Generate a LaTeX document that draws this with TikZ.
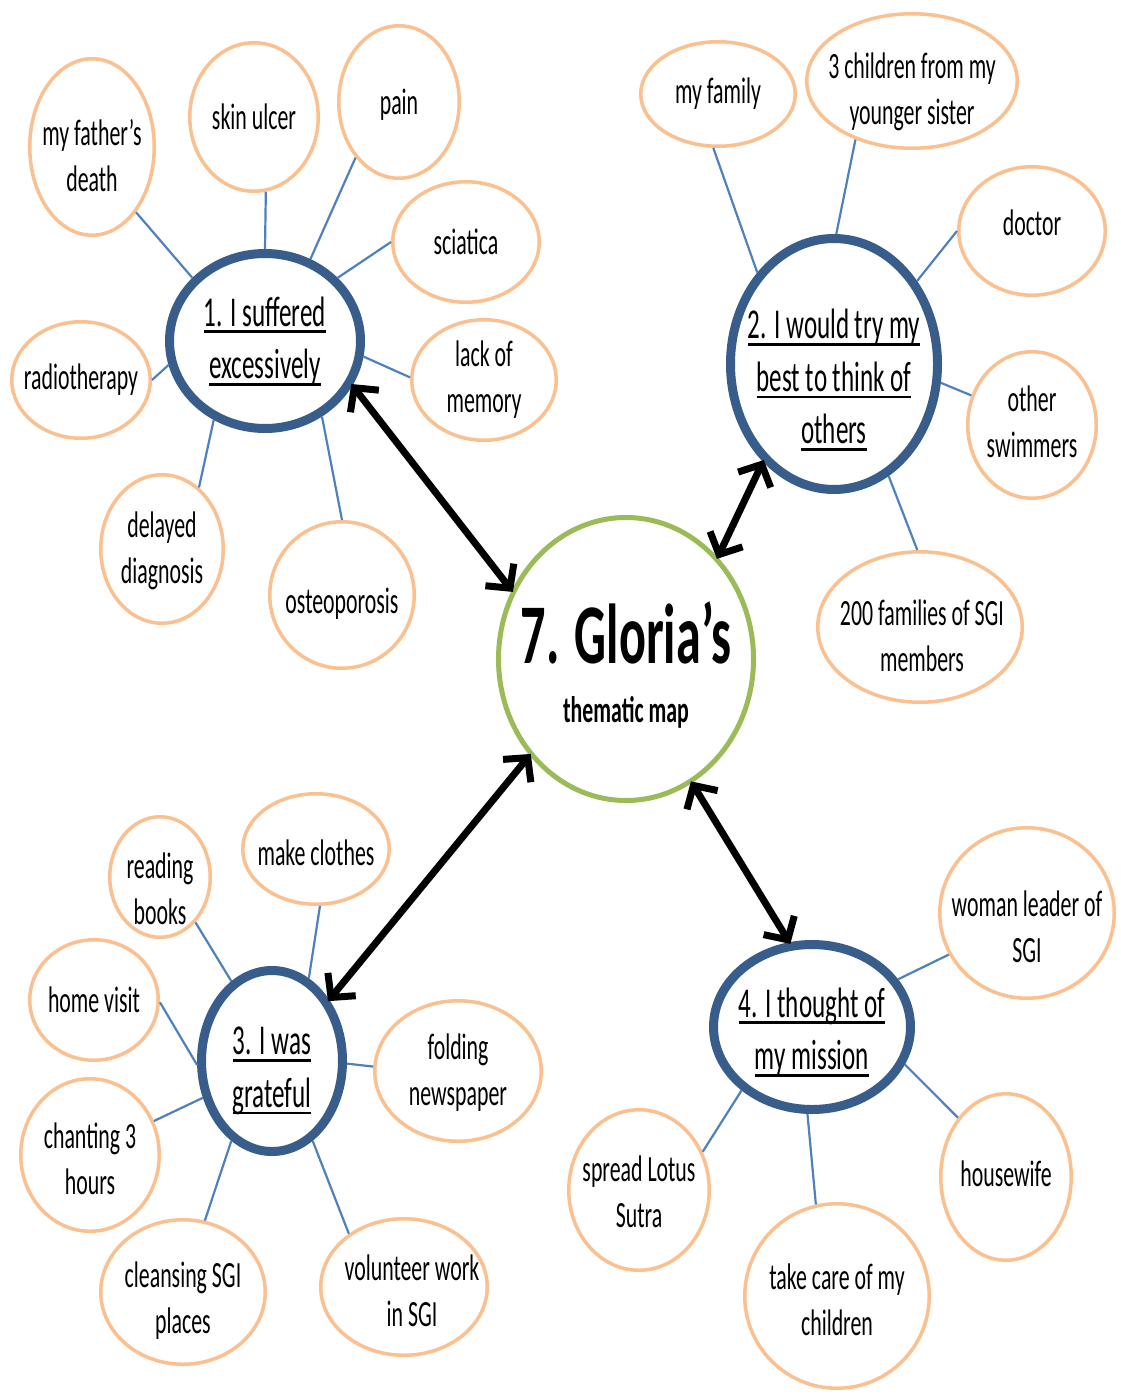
\documentclass[tikz,border=0pt]{standalone}
\usepackage{fontspec}
\setmainfont{Carlito}[FakeStretch=0.59]
\usetikzlibrary{shapes.geometric,arrows.meta}
\definecolor{leafc}{HTML}{FAC090}
\definecolor{hubc}{HTML}{385D8A}
\definecolor{linkc}{HTML}{4F81BD}
\definecolor{corec}{HTML}{9BBB59}
% underline a whole line of text
\newcommand\ulx[1]{\setbox0=\hbox{#1}\rlap{\rule[-7pt]{\wd0}{2.7pt}}\box0}
\tikzset{
  txt/.style={font=\fontsize{37}{46}\selectfont, align=center, inner sep=0pt},
  hubtxt/.style={font=\fontsize{42.5}{52.5}\selectfont, align=center, inner sep=0pt},
  leaf/.style n args={2}{ellipse, draw=leafc, fill=white, line width=3.5pt, inner sep=0pt,
    minimum width={(2*#1-3.5)*1pt}, minimum height={(2*#2-3.5)*1pt}},
  hub/.style n args={2}{ellipse, draw=hubc, fill=white, line width=9pt, inner sep=0pt,
    minimum width={(2*#1-9)*1pt}, minimum height={(2*#2-9)*1pt}},
  core/.style n args={2}{ellipse, draw=corec, fill=white, line width=5pt, inner sep=0pt,
    minimum width={(2*#1-5)*1pt}, minimum height={(2*#2-5)*1pt}},
  link/.style={draw=linkc, line width=2.2pt},
  arr/.style={line width=7pt, {Straight Barb[length=17pt,width=36pt]}-{Straight Barb[length=17pt,width=36pt]},
    shorten <=-2pt, shorten >=-2pt},
}
\begin{document}
\begin{tikzpicture}[x=1pt,y=-1pt]
\useasboundingbox (0,0) rectangle (1120,1394);
\fill[white] (0,0) rectangle (1120,1394);

% centre
\node[core={130}{144},
  label={[inner sep=0pt, yshift=26pt, font=\fontsize{85}{90}\selectfont\bfseries]center:{7. Gloria’s}},
  label={[inner sep=0pt, yshift=-53pt, font=\fontsize{37}{40}\selectfont\bfseries]center:{thematic map}}] (ctr) at (626,659) {};

% hubs
\node[hub={100}{92}, label={[hubtxt]center:{\ulx{1. I suffered}\\\ulx{excessively}}}] (h1) at (265,341) {};
\node[hub={108}{130}, label={[hubtxt,yshift=-16pt]center:{\ulx{2. I would try my}\\\ulx{best to think of}\\\ulx{others}}}] (h2) at (834,364) {};
\node[hub={75}{95}, label={[hubtxt,yshift=-10pt]center:{\ulx{3. I was}\\\ulx{grateful}}}] (h3) at (272,1061) {};
\node[hub={103}{87}, label={[hubtxt,yshift=-5pt]center:{\ulx{4. I thought of}\\\ulx{my mission}}}] (h4) at (812,1027) {};

% leaves of hub 1
\node[leaf={64}{90}, label={[txt,yshift=-9pt]center:{my father’s\\death}}] (fd) at (92,147) {};
\node[leaf={66}{76}, label={[txt]center:{skin ulcer}}] (su) at (254,117) {};
\node[leaf={62}{78}, label={[txt,yshift=-3pt]center:{pain}}] (pn) at (399,102) {};
\node[leaf={75}{62}, label={[txt]center:{sciatica}}] (sc) at (466,242) {};
\node[leaf={74}{62}, label={[txt]center:{lack of\\memory}}] (lm) at (484,380) {};
\node[leaf={71}{60}, label={[txt]center:{radiotherapy}}] (rt) at (81,380) {};
\node[leaf={63}{76}, label={[txt,yshift=-2pt]center:{delayed\\diagnosis}}] (dd) at (162,549) {};
\node[leaf={74}{75}, label={[txt,yshift=-9pt]center:{osteoporosis}}] (op) at (342,595) {};

% leaves of hub 2
\node[leaf={79}{54}, label={[txt]center:{my family}}] (mf) at (718,94) {};
\node[leaf={107}{69}, label={[txt,yshift=-11pt]center:{3 children from my\\younger sister}}] (cs) at (912,81) {};
\node[leaf={75}{66}, label={[txt,yshift=8pt]center:{doctor}}] (dr) at (1032,231) {};
\node[leaf={66}{75}, label={[txt,yshift=3pt]center:{other\\swimmers}}] (os) at (1032,425) {};
\node[leaf={104}{77}, label={[txt,yshift=-9pt,xshift=2pt]center:{200 families of SGI\\members}}] (ff) at (920,627) {};

% leaves of hub 3
\node[leaf={52}{62}, label={[txt,yshift=-12pt]center:{reading\\books}}] (rb) at (160,877) {};
\node[leaf={75}{57}, label={[txt,yshift=-4pt]center:{make clothes}}] (mc) at (316,849) {};
\node[leaf={66}{62}, label={[txt]center:{home visit}}] (hv) at (94,1000) {};
\node[leaf={85}{72}, label={[txt,yshift=-2pt]center:{folding\\newspaper}}] (fn) at (458,1071) {};
\node[leaf={71}{78}, label={[txt,yshift=-4pt]center:{chanting 3\\hours}}] (ch) at (90,1155) {};
\node[leaf={84}{74}, label={[txt,yshift=-9pt]center:{cleansing SGI\\places}}] (cl) at (183,1292) {};
\node[leaf={85}{70}, label={[txt,yshift=-4pt,xshift=8pt]center:{volunteer work\\in SGI}}] (vw) at (404,1287) {};

% leaves of hub 4
\node[leaf={89}{87}, label={[txt,yshift=-14pt]center:{woman leader of\\SGI}}] (wl) at (1027,913) {};
\node[leaf={72}{82}, label={[txt,yshift=-2pt]center:{spread Lotus\\Sutra}}] (sl) at (639,1190) {};
\node[leaf={94}{94}, label={[txt,yshift=-4pt]center:{take care of my\\children}}] (tc) at (837,1296) {};
\node[leaf={67}{85}, label={[txt,yshift=3pt]center:{housewife}}] (hw) at (1006,1177) {};

% spokes
\draw[link] (fd.-56) -- (h1.139);
\draw[link] (su.-81) -- (h1.90);
\draw[link] (pn.-128) -- (h1.61);
\draw[link] (sc.180) -- (h1.41);
\draw[link] (lm.178) -- (h1.-9);
\draw[link] (rt.0) -- (h1.194);
\draw[link] (dd.59) -- (h1.-123);
\draw[link] (op.90) -- (h1.-53);

\draw[link] (mf.-95) -- (h2.130);
\draw[link] (cs.-134) -- (h2.89);
\draw[link] (dr.180) -- (h2.45);
\draw[link] (os.154) -- (h2.-10);
\draw[link] (ff.92) -- (h2.-64);

\draw[link] (rb.-52) -- (h3.117);
\draw[link] (mc.-86) -- (h3.66);
\draw[link] (hv.-2) -- (h3.183);
\draw[link] (fn.177) -- (h3.-2);
\draw[link] (ch.28) -- (h3.-152);
\draw[link] (cl.73) -- (h3.-117);
\draw[link] (vw.136) -- (h3.-63);

\draw[link] (wl.208) -- (h4.29);
\draw[link] (sl.31) -- (h4.-138);
\draw[link] (tc.103) -- (h4.-93);
\draw[link] (hw.129) -- (h4.-22);

% double arrows between the centre and the hubs
\draw[arr] (h1.-27) -- (ctr.149);
\draw[arr] (h2.-126) -- (ctr.48);
\draw[arr] (h3.47) -- (ctr.-135);
\draw[arr] (h4.105) -- (ctr.-62);
\end{tikzpicture}
\end{document}
